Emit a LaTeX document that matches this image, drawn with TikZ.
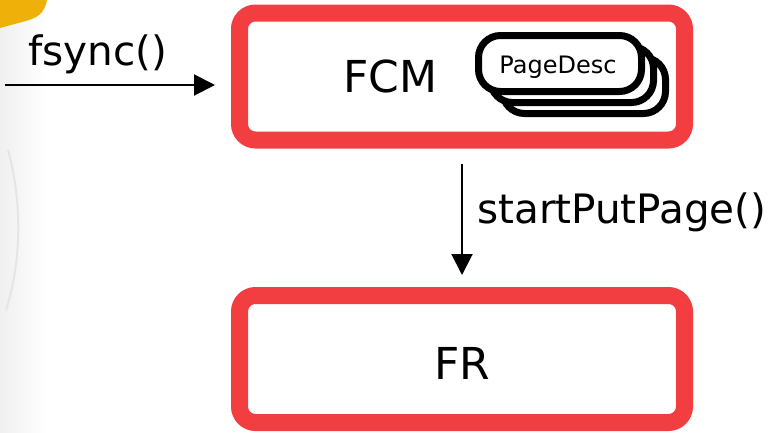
\documentclass[tikz,border=0pt]{standalone}
\usepackage{fontspec}
\setmainfont{DejaVu Sans}
\usetikzlibrary{arrows.meta}
\definecolor{boxred}{RGB}{242,62,64}
\definecolor{gold}{RGB}{240,176,10}
\tikzset{
  redbox/.style={draw=boxred, line width=17pt, rounded corners=16pt, fill=white,
    minimum width=445pt, minimum height=127pt, inner sep=0pt},
  pagebox/.style={draw=black, line width=7pt, rounded corners=22pt, fill=white,
    minimum width=163pt, minimum height=56pt, inner sep=0pt},
  bigtext/.style={font=\fontsize{44}{44}\selectfont, inner sep=0pt, anchor=base},
  lbltext/.style={font=\fontsize{40.5}{40.5}\selectfont, inner sep=0pt, anchor=base},
  smalltext/.style={font=\fontsize{24}{24}\selectfont, inner sep=0pt, anchor=base},
  arr/.style={line width=2pt, -{Triangle[length=21pt,width=21pt]}}
}
\begin{document}
\begin{tikzpicture}[x=1pt,y=-1pt]
\useasboundingbox (0,0) rectangle (775,432);
% faint background strip at left
\shade[left color=black!6, right color=white] (0,0) rectangle (46,432);
\draw[black!10, line width=2pt] (8,150) .. controls (22,200) and (22,260) .. (6,310);
% yellow shape at top-left
\fill[gold] (0,0) -- (47,0) .. controls (44,14) and (38,18) .. (22,22) -- (0,28) -- cycle;
% main boxes
\node[redbox] (fcm) at (462,76.5) {};
\node[redbox] (fr) at (462,359) {};
\node[bigtext] (fcmt) at (390,92) {FCM};
\node[bigtext] (frt) at (462,379) {FR};
% PageDesc stack
\node[pagebox] (pd3) at (584,85.5) {};
\node[pagebox] (pd2) at (572,74.5) {};
\node[pagebox] (pd1) at (560,63.5) {};
\node[smalltext] (pdt) at (558,73) {PageDesc};
% arrows
\coordinate (fsrc) at (5,85);
\draw[arr, shorten >=16pt] (fsrc) -- (fsrc -| fcm.west);
\node[lbltext] (fsync) at (97.5,65) {fsync()};
\draw[arr, shorten <=15pt, shorten >=12pt] (fcm.south) -- (fr.north);
\node[lbltext, anchor=base west] (spp) at (477,223) {startPutPage()};
\end{tikzpicture}
\end{document}
